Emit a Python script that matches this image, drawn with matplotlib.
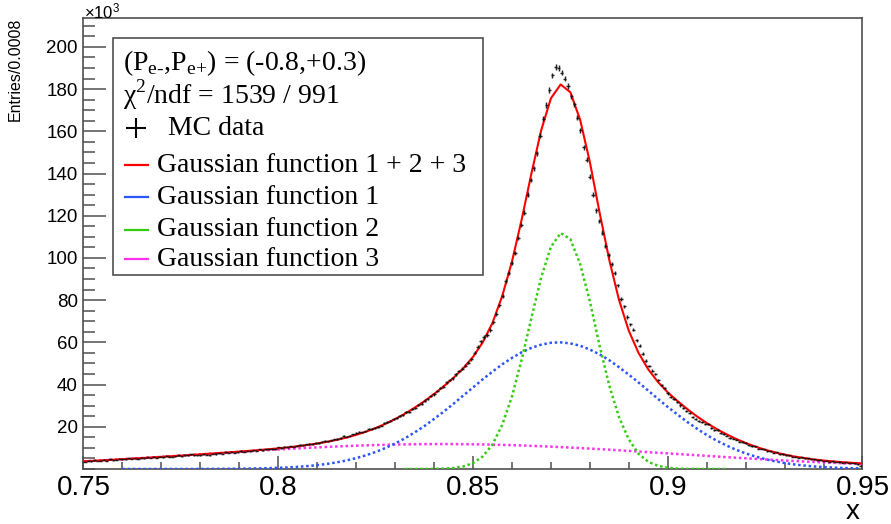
import numpy as np
import matplotlib
matplotlib.use("Agg")
import matplotlib.pyplot as plt
from matplotlib.patches import Rectangle
from matplotlib.lines import Line2D
from matplotlib.ticker import FixedLocator, MultipleLocator

plt.rcParams["mathtext.fontset"] = "custom"
plt.rcParams["mathtext.rm"] = "Liberation Serif"

# Histogram: 250 bins of width 0.0008 in [0.75, 0.95], entries in units of 10^3
x_min, x_max, n_bins = 0.75, 0.95, 250
entries = [
    3.5, 3.9, 3.6, 4.1, 3.8, 4.0, 4.3, 3.9, 4.5, 4.2,
    4.4, 4.8, 4.5, 4.6, 5.0, 4.7, 5.1, 4.9, 5.3, 5.0,
    5.5, 5.2, 5.7, 5.4, 5.9, 5.6, 6.3, 5.8, 5.9, 6.0,
    6.4, 6.1, 6.6, 6.4, 6.9, 6.4, 6.6, 6.5, 7.0, 6.8,
    6.6, 7.2, 7.1, 7.5, 7.3, 7.9, 7.6, 8.1, 7.8, 8.0,
    8.5, 8.2, 8.7, 8.4, 8.9, 8.7, 9.3, 8.9, 9.4, 9.3,
    9.7, 9.5, 10.2,
    10.0, 10.5, 10.3, 10.8, 10.6, 11.0, 11.4, 11.2, 11.7, 11.9,
    11.8, 12.4, 12.3, 12.9, 13.3, 13.1, 13.6, 14.0, 14.3, 14.8,
    15.5, 15.3, 15.8, 16.4, 16.9, 17.4, 17.3, 17.8, 18.9, 19.0,
    19.6, 20.0, 20.6, 21.7, 22.4, 22.9, 23.5, 24.3,
    25.1, 25.4, 26.9, 27.2, 28.6, 29.0, 30.5, 31.0, 32.4, 33.0,
    34.6, 35.3, 36.9, 38.3, 39.0, 41.0, 42.2, 43.0, 44.9, 46.4,
    47.5, 48.9, 50.3, 52.0,
    55.0, 58.0, 60.5, 62.5, 63.5, 65.9, 69.5, 73.5, 77.5, 82.0,
    89.0, 93.0, 97.5,
    102.5, 109.5, 115.5, 121.5, 130.0, 137.0, 142.5, 149.5, 158.0, 166.0,
    172.5, 179.5, 186.5, 190.5, 190.0, 187.8, 185.0, 181.5, 176.5, 172.8,
    166.5, 160.5, 152.5, 146.5, 138.5, 130.0, 122.5, 117.5, 112.0, 105.5,
    101.5, 97.0, 93.0, 87.0, 80.5, 77.0, 72.0, 68.5, 66.0, 61.0,
    58.3, 54.5, 51.2, 48.8, 46.5, 45.0, 42.2, 39.8, 38.3, 35.8,
    34.0, 33.0, 31.7, 30.1, 28.9, 27.6, 26.4, 24.8, 23.6, 22.6,
    22.4, 21.5, 21.4, 19.6, 18.4, 18.6, 17.1, 16.6, 15.8, 14.6,
    14.4, 13.9, 13.0, 12.7, 12.3, 11.2, 10.9, 10.8, 9.7, 9.6,
    9.4, 8.5, 8.4, 7.8, 7.9, 7.0, 7.1, 6.4, 6.5, 5.9,
    5.9, 5.3, 5.5, 5.0, 5.0, 4.5, 4.6, 4.1, 4.3, 3.8,
    3.9, 3.5, 3.7, 3.3, 3.4, 3.0, 3.2, 2.8, 2.9, 2.6,
    2.2, 1.6,
]

fit_x = np.linspace(0.75, 0.95, 81)
total_fit = [
    3.64, 3.88, 4.12, 4.38, 4.64, 4.91, 5.18, 5.46, 5.75, 6.04,
    6.34, 6.64, 6.95, 7.26, 7.57, 7.90, 8.24, 8.59, 8.95, 9.35,
    9.78, 10.24, 10.77, 11.37, 12.06, 12.86, 13.79, 14.89, 16.17, 17.66,
    19.40, 21.38, 23.64, 26.15, 29.0, 32.1, 35.5, 39.2, 43.2, 47.7,
    53.1, 60.0, 69.2, 81.9, 98.2, 118.2, 140.0, 160.4, 175.6, 182.2,
    178.5, 165.5, 145.5, 121.5, 99.0, 80.0, 65.5, 55.0, 47.2, 41.2,
    36.3, 32.2, 28.4, 24.9, 21.8, 19.0, 16.5, 14.3, 12.3, 10.6,
    9.1, 7.9, 6.8, 5.9, 5.2, 4.5, 4.0, 3.6, 3.2, 2.9,
    2.6,
]

gaus1_x = np.linspace(0.76, 0.95, 77)
gaus1 = [
    0.0, 0.0, 0.0, 0.0, 0.01, 0.01, 0.01, 0.02, 0.03, 0.04,
    0.06, 0.09, 0.13, 0.19, 0.27, 0.39,
    0.54, 0.74, 1.01, 1.37, 1.82, 2.40, 3.13, 4.03, 5.14, 6.47,
    8.06, 9.92, 12.07, 14.5, 17.3, 20.3, 23.7, 27.2, 30.9, 34.8,
    38.6, 42.5, 46.1, 49.6, 52.6, 55.3, 57.4, 58.9, 59.8, 60.0,
    59.5, 58.4, 56.6, 54.3, 51.5, 48.2, 44.7, 41.0, 37.1, 33.2,
    29.4, 25.8, 22.3, 19.1, 16.1, 13.5, 11.2, 9.14, 7.39, 5.91,
    4.67, 3.65, 2.82, 2.15, 1.63, 1.21, 0.90, 0.66, 0.47, 0.34,
    0.24,
]

gaus2_x = np.linspace(0.8325, 0.915, 34)
gaus2 = [
    0.0, 0.01, 0.02, 0.06, 0.17, 0.47, 1.19, 2.77, 5.93, 11.6,
    20.9, 34.3, 51.8, 71.6, 90.7, 105.2, 111.8, 108.9, 97.2, 79.5,
    58.5, 39.5, 24.5, 14.0, 7.2, 3.4, 1.5, 0.6, 0.2, 0.07,
    0.02, 0.01, 0.0, 0.0,
]

gaus3_x = np.linspace(0.75, 0.95, 81)
gaus3 = [
    3.64, 3.88, 4.12, 4.38, 4.64, 4.91, 5.18, 5.46, 5.74, 6.03,
    6.33, 6.62, 6.92, 7.22, 7.51, 7.81, 8.11, 8.40, 8.68, 8.96,
    9.24, 9.50, 9.76, 10.00, 10.24, 10.46, 10.66, 10.86, 11.03, 11.19,
    11.34, 11.46, 11.57, 11.65, 11.72, 11.77, 11.79, 11.80, 11.79, 11.75,
    11.69, 11.62, 11.53, 11.41, 11.28, 11.13, 10.96, 10.78, 10.58, 10.37,
    10.14, 9.91, 9.66, 9.40, 9.13, 8.85, 8.57, 8.28, 7.99, 7.69,
    7.40, 7.10, 6.80, 6.50, 6.21, 5.92, 5.63, 5.35, 5.07, 4.80,
    4.53, 4.28, 4.02, 3.78, 3.55, 3.33, 3.11, 2.90, 2.70, 2.51,
    2.34,
]

x_ticks = [0.75, 0.8, 0.85, 0.9, 0.95]
x_tick_labels = ["0.75", "0.8", "0.85", "0.9", "0.95"]
y_ticks = [20, 40, 60, 80, 100, 120, 140, 160, 180, 200]

legend_header = [
    r"(P$_{\text{e-}}$,P$_{\text{e+}}$) = (-0.8,+0.3)",
    r"χ$^{\text{2}}$/ndf = 1539 / 991",
]
curve_labels = ["Gaussian function 1 + 2 + 3", "Gaussian function 1",
                "Gaussian function 2", "Gaussian function 3"]

red, blue, green, magenta = "#ff0000", "#2a55ff", "#33cc11", "#ff33ee"
frame_col = "#505050"
dotted = (0, (1.0, 1.1))
serif = "Liberation Serif"
sans = "Liberation Sans"

fig = plt.figure(figsize=(8.91, 5.24), dpi=100)
ax = fig.add_axes([0.0937, 0.1050, 0.8743, 0.8607])

# fit curves
ax.plot(gaus3_x, gaus3, color=magenta, lw=1.8, ls=dotted, zorder=3)
ax.plot(gaus1_x, gaus1, color=blue, lw=1.8, ls=dotted, zorder=3)
ax.plot(gaus2_x, gaus2, color=green, lw=1.8, ls=dotted, zorder=3)
ax.plot(fit_x, total_fit, color=red, lw=1.5, zorder=4)

# MC data points with error bars (drawn enlarged, like the ROOT markers)
edges = np.linspace(x_min, x_max, n_bins + 1)
centers = 0.5 * (edges[:-1] + edges[1:])
entries = np.array(entries)
yerr = 3.0 * np.sqrt(entries * 1e3) / 1e3
ax.errorbar(centers, entries, xerr=0.5 * (edges[1] - edges[0]), yerr=yerr,
            fmt="none", ecolor="#111111", elinewidth=1.05, alpha=0.9,
            zorder=5)

ax.set_xlim(x_min, x_max)
ax.set_ylim(0, 213.7)

ax.xaxis.set_major_locator(FixedLocator(x_ticks))
ax.set_xticklabels(x_tick_labels, fontsize=20, family=sans)
ax.xaxis.set_minor_locator(MultipleLocator(0.01))
ax.yaxis.set_major_locator(FixedLocator(y_ticks))
ax.set_yticklabels([str(v) for v in y_ticks], fontsize=13.5, family=sans)
ax.yaxis.set_minor_locator(MultipleLocator(5))

ax.tick_params(axis="both", which="both", direction="in", top=False,
               right=False, color=frame_col, width=1.1)
ax.tick_params(axis="x", which="major", length=9.5, pad=4)
ax.tick_params(axis="x", which="minor", length=5)
ax.tick_params(axis="y", which="major", length=16.5, pad=4)
ax.tick_params(axis="y", which="minor", length=8.5)
for s in ax.spines.values():
    s.set_color(frame_col)
    s.set_linewidth(1.2)

ax.set_ylabel("Entries/0.0008", loc="top", fontsize=11.5, family=sans)
ax.yaxis.set_label_coords(-0.078, 1.0)
fig.text(860 / 891, 1 - 512 / 524, "x", ha="right", va="center",
         fontsize=20, family=sans)
fig.text(84 / 891, 1 - 11 / 524, r"$\mathregular{\times10^{3}}$", ha="left",
         va="center", fontsize=12, family=sans)

# legend box
ax.add_patch(Rectangle((0.038, 0.430), 0.475, 0.526, transform=ax.transAxes,
                       facecolor="white", edgecolor=frame_col, lw=1.2,
                       zorder=7))
ax.text(0.0503, 0.900, legend_header[0], transform=ax.transAxes,
        fontsize=20, family=serif, va="center", zorder=8)
ax.text(0.0503, 0.829, legend_header[1], transform=ax.transAxes,
        fontsize=20, family=serif, va="center", zorder=8)
ax.plot([0.068], [0.755], marker="+", ms=14, mew=1.5, color="black",
        transform=ax.transAxes, zorder=8)
ax.text(0.1085, 0.755, "MC data", transform=ax.transAxes,
        fontsize=20, family=serif, va="center", zorder=8)
for lab, col, yy in zip(curve_labels, [red, blue, green, magenta],
                        [0.674, 0.603, 0.530, 0.465]):
    ax.add_line(Line2D([0.053, 0.083], [yy, yy], color=col, lw=1.6,
                       transform=ax.transAxes, zorder=8))
    ax.text(0.0944, yy, lab, transform=ax.transAxes, fontsize=20,
            family=serif, va="center", zorder=8)

fig.savefig("out.png", dpi=100)
